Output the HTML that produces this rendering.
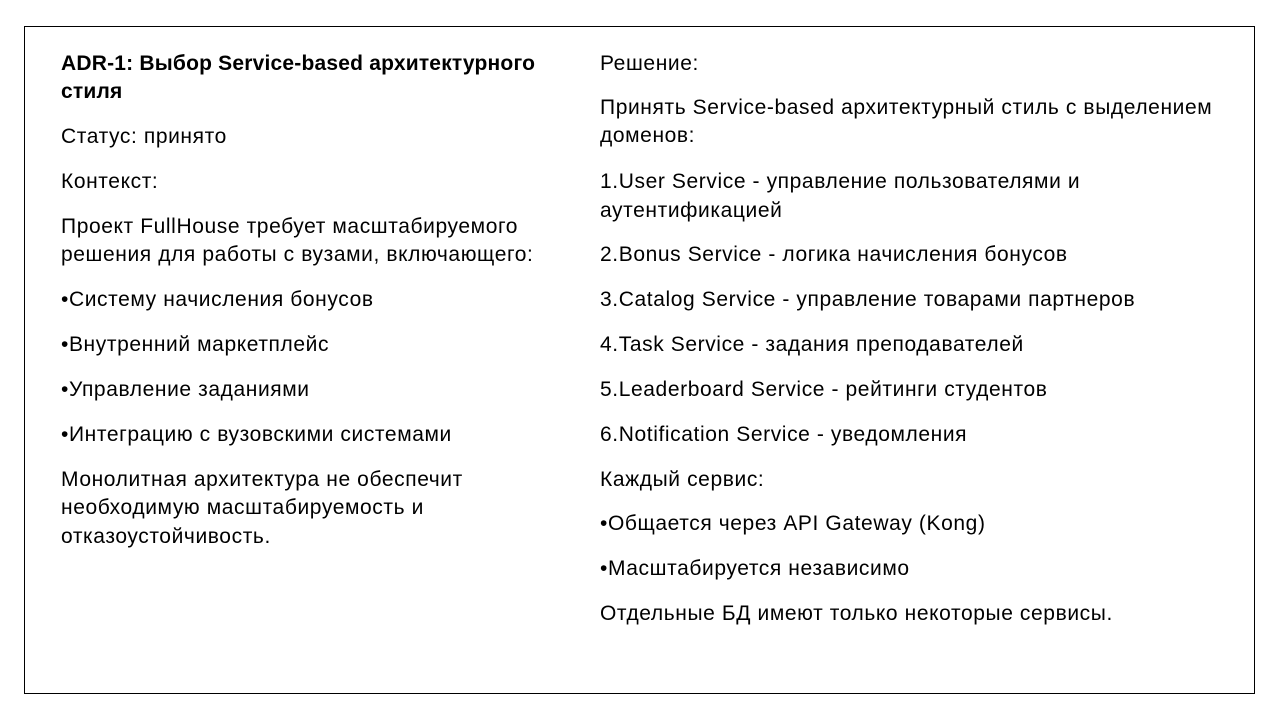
<!DOCTYPE html>
<html><head><meta charset="utf-8"><style>
body{margin:0;width:1280px;height:720px;background:#fff;position:relative;overflow:hidden;font-family:"Liberation Sans","Noto Sans CJK SC",sans-serif;color:#000}
.frame{position:absolute;left:24px;top:26px;width:1231px;height:668px;border:1px solid #000;box-sizing:border-box}
.t{position:absolute;font-size:21px;line-height:24px;letter-spacing:0.6px;white-space:nowrap}
.b{font-weight:bold;letter-spacing:0.2px}
</style></head><body>
<div class="frame"></div>
<div class="t b" style="left:61px;top:52px">ADR-1: Выбор Service-based архитектурного</div>
<div class="t b" style="left:61px;top:80px">стиля</div>
<div class="t" style="left:61px;top:125px">Статус: принято</div>
<div class="t" style="left:61px;top:170px">Контекст:</div>
<div class="t" style="left:61px;top:215px">Проект FullHouse требует масштабируемого</div>
<div class="t" style="left:61px;top:243px">решения для работы с вузами, включающего:</div>
<div class="t" style="left:61px;top:288px">•Систему начисления бонусов</div>
<div class="t" style="left:61px;top:333px">•Внутренний маркетплейс</div>
<div class="t" style="left:61px;top:378px">•Управление заданиями</div>
<div class="t" style="left:61px;top:423px">•Интеграцию с вузовскими системами</div>
<div class="t" style="left:61px;top:468px">Монолитная архитектура не обеспечит</div>
<div class="t" style="left:61px;top:496px">необходимую масштабируемость и</div>
<div class="t" style="left:61px;top:525px">отказоустойчивость.</div>

<div class="t" style="left:600px;top:52px">Решение:</div>
<div class="t" style="left:600px;top:96px">Принять Service-based архитектурный стиль с выделением</div>
<div class="t" style="left:600px;top:124px">доменов:</div>
<div class="t" style="left:600px;top:170px">1.User Service - управление пользователями и</div>
<div class="t" style="left:600px;top:199px">аутентификацией</div>
<div class="t" style="left:600px;top:243px">2.Bonus Service - логика начисления бонусов</div>
<div class="t" style="left:600px;top:288px">3.Catalog Service - управление товарами партнеров</div>
<div class="t" style="left:600px;top:333px">4.Task Service - задания преподавателей</div>
<div class="t" style="left:600px;top:378px">5.Leaderboard Service - рейтинги студентов</div>
<div class="t" style="left:600px;top:423px">6.Notification Service - уведомления</div>
<div class="t" style="left:600px;top:468px">Каждый сервис:</div>
<div class="t" style="left:600px;top:512px">•Общается через API Gateway (Kong)</div>
<div class="t" style="left:600px;top:557px">•Масштабируется независимо</div>
<div class="t" style="left:600px;top:602px">Отдельные БД имеют только некоторые сервисы.</div>
</body></html>
